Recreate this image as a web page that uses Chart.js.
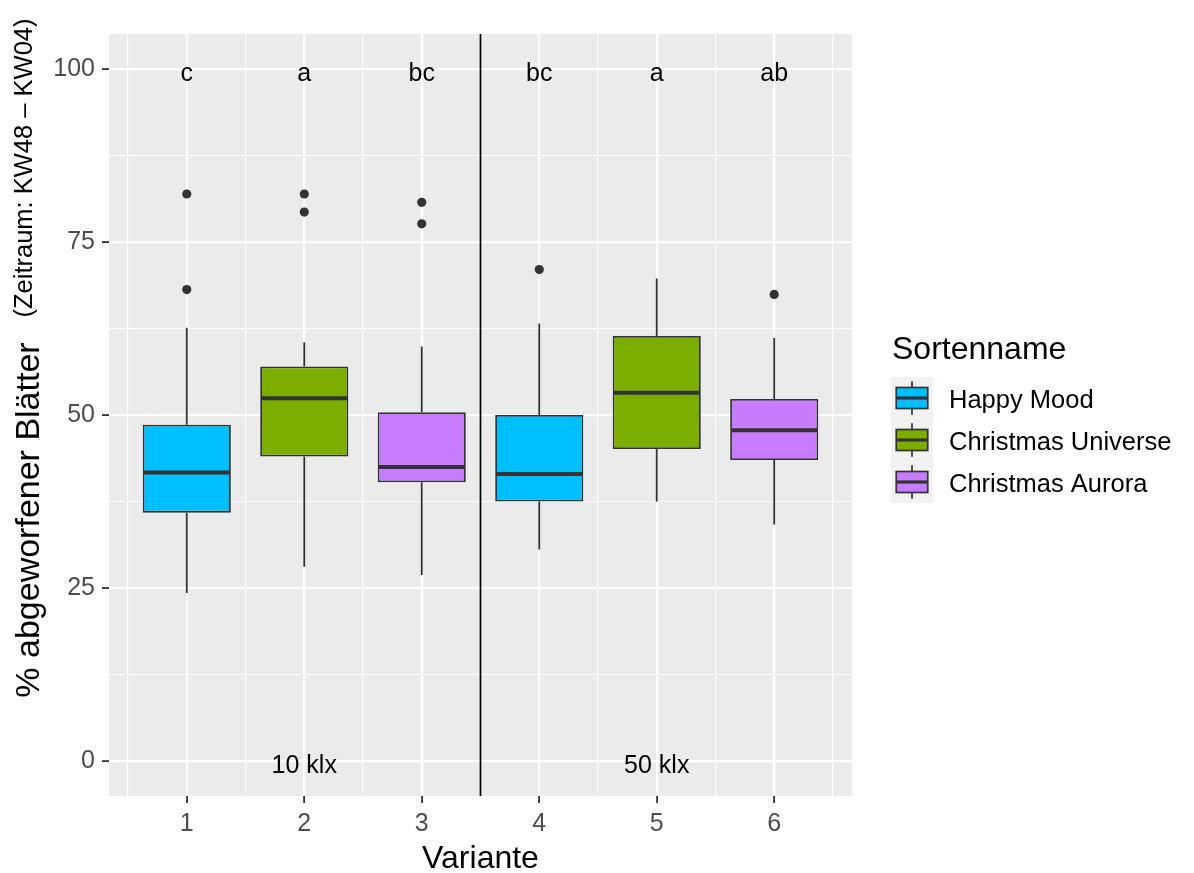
<!DOCTYPE html>
<html lang="de">
<head>
<meta charset="utf-8">
<title>Abgeworfene Blätter je Variante</title>
<script src="https://cdn.jsdelivr.net/npm/chart.js@4.4.1/dist/chart.umd.min.js"></script>
<style>
  html, body { margin: 0; padding: 0; background: #ffffff; }
  canvas { display: block; }
</style>
</head>
<body>
<canvas id="blattChart" width="1194" height="873"></canvas>
<script>
// Varianten 1-6, je drei Sorten bei 10 klx und 50 klx
const varianten = [1, 2, 3, 4, 5, 6];
const sorten = ['Happy Mood', 'Christmas Universe', 'Christmas Aurora'];
const sorteJeVariante = [0, 1, 2, 0, 1, 2];
const farben = ['#00BFFF', '#7CAE00', '#C77CFF'];

// Boxplot-Kennwerte in % abgeworfener Blätter
const whiskerUnten = [24.3, 28.1, 26.9, 30.6, 37.5, 34.2];
const q1 = [35.9, 44.0, 40.3, 37.5, 45.1, 43.5];
const median = [41.7, 52.4, 42.5, 41.5, 53.2, 47.8];
const q3 = [48.6, 57.0, 50.4, 50.0, 61.4, 52.3];
const whiskerOben = [62.6, 60.5, 59.9, 63.2, 69.7, 61.1];
const ausreisser = [[81.9, 68.1], [81.9, 79.3], [80.7, 77.6], [71.0], [], [67.4]];

// Signifikanzbuchstaben (über den Boxen) und Lichtstufen (unten)
const buchstaben = ['c', 'a', 'bc', 'bc', 'a', 'ab'];
const buchstabenHoehe = 100;
const lichtStufen = ['10 klx', '50 klx'];
const lichtPosition = [2, 5];
const lichtHoehe = 0;
const trennlinie = 3.5;

const yTicks = [0, 25, 50, 75, 100];
const xTicks = varianten;

const BOX_BREITE = 0.75;
const LINIE = '#333333';
const FONT = "'Liberation Sans', Arial, Helvetica, sans-serif";

// Zwischenlinien (ggplot minor grid) jeweils in der Mitte zwischen den Ticks
function mitZwischen(ticks, vorne) {
  const out = [];
  const schritt = ticks[1] - ticks[0];
  if (vorne) out.push(ticks[0] - schritt / 2);
  ticks.forEach((t, i) => {
    out.push(t);
    if (i < ticks.length - 1) out.push((t + ticks[i + 1]) / 2);
  });
  if (vorne) out.push(ticks[ticks.length - 1] + schritt / 2);
  return out;
}
const istHaupt = (list, v) => list.some(t => Math.abs(t - v) < 1e-9);
const hauptTick = (list, c) => !c.tick || istHaupt(list, c.tick.value);

const boxDatasets = sorten.map((name, s) => ({
  type: 'bar',
  label: name,
  data: varianten
    .map((v, i) => ({ x: v, y: [q1[i], q3[i]], idx: i }))
    .filter(d => sorteJeVariante[d.idx] === s),
  backgroundColor: farben[s],
  borderColor: LINIE,
  borderWidth: 1.8,
  borderSkipped: false,
  grouped: false,
  categoryPercentage: 1,
  // Tick-Abstand ist 0.5 (inkl. Zwischenlinien) -> Box 0.75 breit
  barPercentage: BOX_BREITE / 0.5,
  order: 2
}));

const punkte = [];
ausreisser.forEach((werte, i) => werte.forEach(w => punkte.push({ x: varianten[i], y: w })));

const ausreisserDataset = {
  type: 'scatter',
  label: 'Ausreißer',
  data: punkte,
  backgroundColor: LINIE,
  borderWidth: 0,
  pointRadius: 4.6,
  order: 1
};

const boxplotDetails = {
  id: 'boxplotDetails',
  beforeDraw(chart) {
    const { ctx, chartArea: a } = chart;
    ctx.save();
    ctx.fillStyle = '#EBEBEB';
    ctx.fillRect(a.left, a.top, a.right - a.left, a.bottom - a.top);
    ctx.restore();
  },
  beforeDatasetsDraw(chart) {
    const { ctx, chartArea: a, scales } = chart;
    const x = scales.x.getPixelForValue(trennlinie);
    ctx.save();
    ctx.strokeStyle = '#000000';
    ctx.lineWidth = 1.7;
    ctx.beginPath();
    ctx.moveTo(x, a.top);
    ctx.lineTo(x, a.bottom);
    ctx.stroke();
    ctx.restore();
  },
  afterDatasetsDraw(chart) {
    const { ctx, scales } = chart;
    const y = scales.y;
    ctx.save();
    ctx.strokeStyle = LINIE;
    chart.data.datasets.forEach((ds, d) => {
      if (ds.type !== 'bar') return;
      chart.getDatasetMeta(d).data.forEach((el, j) => {
        const i = ds.data[j].idx;
        const { x, width } = el.getProps(['x', 'width'], true);
        ctx.lineWidth = 1.8;
        ctx.beginPath();
        ctx.moveTo(x, y.getPixelForValue(q3[i]));
        ctx.lineTo(x, y.getPixelForValue(whiskerOben[i]));
        ctx.moveTo(x, y.getPixelForValue(q1[i]));
        ctx.lineTo(x, y.getPixelForValue(whiskerUnten[i]));
        ctx.stroke();
        ctx.lineWidth = 4;
        ctx.beginPath();
        ctx.moveTo(x - width / 2 + 0.9, y.getPixelForValue(median[i]));
        ctx.lineTo(x + width / 2 - 0.9, y.getPixelForValue(median[i]));
        ctx.stroke();
      });
    });
    ctx.restore();
  },
  afterDraw(chart) {
    const { ctx, chartArea: a, scales } = chart;
    ctx.save();
    ctx.fillStyle = '#000000';

    // Buchstaben und Lichtstufen im Panel
    ctx.font = `25px ${FONT}`;
    ctx.textAlign = 'center';
    ctx.textBaseline = 'alphabetic';
    buchstaben.forEach((b, i) => {
      ctx.fillText(b, scales.x.getPixelForValue(varianten[i]), scales.y.getPixelForValue(buchstabenHoehe) + 12);
    });
    lichtStufen.forEach((t, i) => {
      ctx.fillText(t, scales.x.getPixelForValue(lichtPosition[i]), scales.y.getPixelForValue(lichtHoehe) + 12);
    });

    // Achsentitel
    ctx.font = `32px ${FONT}`;
    ctx.fillText('Variante', (a.left + a.right) / 2, 868);

    ctx.save();
    ctx.translate(39, 520);
    ctx.rotate(-Math.PI / 2);
    ctx.font = `34px ${FONT}`;
    ctx.fillText('% abgeworfener Blätter', 0, 0);
    ctx.restore();

    ctx.save();
    ctx.translate(32, 168);
    ctx.rotate(-Math.PI / 2);
    ctx.font = `25.5px ${FONT}`;
    ctx.fillText('(Zeitraum: KW48 \u2013 KW04)', 0, 0);
    ctx.restore();

    // Legende im ggplot-Stil
    const lx = 891, ly = 377, zelle = 42;
    ctx.textAlign = 'left';
    ctx.font = `32px ${FONT}`;
    ctx.fillText('Sortenname', lx + 1, 359);
    ctx.fillStyle = '#F2F2F2';
    ctx.fillRect(lx, ly, zelle, zelle * sorten.length);
    sorten.forEach((name, s) => {
      const top = ly + zelle * s;
      const mx = lx + zelle / 2;
      ctx.strokeStyle = LINIE;
      ctx.lineWidth = 1.7;
      ctx.beginPath();
      ctx.moveTo(mx, top + zelle * 0.1);
      ctx.lineTo(mx, top + zelle * 0.9);
      ctx.stroke();
      const bx = lx + zelle * 0.125, bw = zelle * 0.75;
      const by = top + zelle * 0.25, bh = zelle * 0.5;
      ctx.fillStyle = farben[s];
      ctx.fillRect(bx, by, bw, bh);
      ctx.strokeRect(bx, by, bw, bh);
      ctx.lineWidth = 3.2;
      ctx.beginPath();
      ctx.moveTo(bx, top + zelle / 2);
      ctx.lineTo(bx + bw, top + zelle / 2);
      ctx.stroke();
      ctx.fillStyle = '#000000';
      ctx.font = `25.5px ${FONT}`;
      ctx.textBaseline = 'middle';
      ctx.fillText(name, 949, top + zelle / 2 + 3);
      ctx.textBaseline = 'alphabetic';
    });
    ctx.restore();
  }
};

Chart.defaults.font.family = FONT;

new Chart(document.getElementById('blattChart'), {
  type: 'bar',
  data: { datasets: [...boxDatasets, ausreisserDataset] },
  options: {
    responsive: false,
    animation: false,
    events: [],
    layout: { padding: { left: 0, right: 342, top: 34, bottom: 0 } },
    plugins: {
      legend: { display: false },
      tooltip: { enabled: false }
    },
    scales: {
      x: {
        type: 'linear',
        offset: false,
        min: 0.338,
        max: 6.662,
        afterBuildTicks(scale) {
          scale.ticks = mitZwischen(xTicks, true).map(v => ({ value: v }));
        },
        afterFit(scale) { scale.height = 77; },
        border: { display: false },
        grid: {
          offset: false,
          color: '#FFFFFF',
          lineWidth: c => hauptTick(xTicks, c) ? 2.2 : 1.1,
          tickColor: c => hauptTick(xTicks, c) ? LINIE : 'rgba(0,0,0,0)',
          tickLength: 7,
          tickWidth: 1.8
        },
        ticks: {
          autoSkip: false,
          maxRotation: 0,
          padding: 6,
          color: '#4D4D4D',
          font: { size: 25 },
          callback: v => istHaupt(xTicks, v) ? String(v) : ''
        }
      },
      y: {
        type: 'linear',
        min: -5,
        max: 105,
        afterBuildTicks(scale) {
          scale.ticks = mitZwischen(yTicks, false).map(v => ({ value: v }));
        },
        afterFit(scale) { scale.width = 109; },
        border: { display: false },
        grid: {
          color: '#FFFFFF',
          lineWidth: c => hauptTick(yTicks, c) ? 2.2 : 1.1,
          tickColor: c => hauptTick(yTicks, c) ? LINIE : 'rgba(0,0,0,0)',
          tickLength: 7,
          tickWidth: 1.8
        },
        ticks: {
          autoSkip: false,
          padding: 7,
          color: '#4D4D4D',
          font: { size: 25 },
          callback: v => istHaupt(yTicks, v) ? String(v) : ''
        }
      }
    }
  },
  plugins: [boxplotDetails]
});
</script>
</body>
</html>
